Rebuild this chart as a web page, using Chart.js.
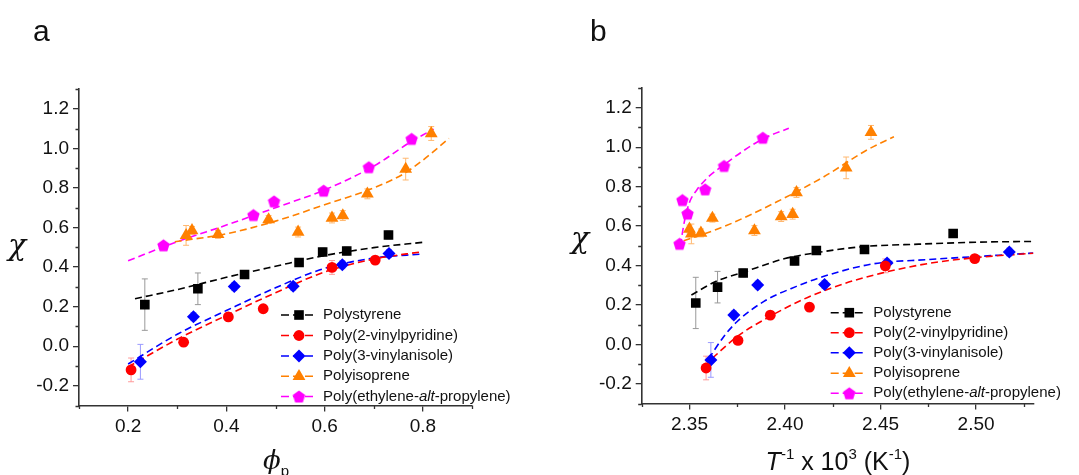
<!DOCTYPE html>
<html>
<head>
<meta charset="utf-8">
<script src="https://cdn.jsdelivr.net/npm/chart.js@4.4.1/dist/chart.umd.min.js"></script>
<style>
  html, body { margin: 0; padding: 0; background: #fff; }
  #wrap { position: relative; width: 1079px; height: 475px; overflow: hidden;
          font-family: 'Liberation Sans', Arial, sans-serif; color: #111; }
  .panel { position: absolute; top: 0; height: 475px; }
  #panelA { left: 0; width: 540px; }
  #panelB { left: 540px; width: 539px; }
  .lbl { position: absolute; white-space: nowrap; line-height: 1; }
  .letter { font-size: 30px; }
  .chi { font-family: 'DejaVu Serif', 'Liberation Serif', serif; font-style: italic; font-size: 30px;
         transform: translate(-50%, -50%); }
  .xt { font-size: 25px; transform: translate(-50%, -50%); }
  .xt .phi { font-family: 'DejaVu Serif', 'Liberation Serif', serif; font-style: italic; font-size: 26px; }
  .xt sub { font-size: 15px; vertical-align: -7px; line-height: 0; }
  .xt sup { font-size: 15px; vertical-align: 11px; line-height: 0; }
</style>
</head>
<body>
<div id="wrap">
  <div class="panel" id="panelA"><canvas id="chartA"></canvas></div>
  <div class="panel" id="panelB"><canvas id="chartB"></canvas></div>
  <div class="lbl letter" style="left:33px;top:16px">a</div>
  <div class="lbl letter" style="left:590px;top:16px">b</div>
  <div class="lbl chi" style="left:17px;top:245px">χ</div>
  <div class="lbl chi" style="left:580px;top:238px">χ</div>
  <div class="lbl xt" style="left:276px;top:460px"><span class="phi">ϕ</span><sub>p</sub></div>
  <div class="lbl xt" style="left:838px;top:461px"><i>T</i><sup>-1</sup> x 10<sup>3</sup> (K<sup>-1</sup>)</div>
</div>

<script>
const FONT = "'Liberation Sans', Arial, sans-serif";
const AXIS_COLOR = '#333';

// ── Axis ticks ────────────────────────────────────────────────────────────────

const chiTicks  = [-0.2, 0, 0.2, 0.4, 0.6, 0.8, 1.0, 1.2];
const chiMinor  = [-0.3, -0.1, 0.1, 0.3, 0.5, 0.7, 0.9, 1.1, 1.3];
const phiTicks  = [0.2, 0.4, 0.6, 0.8];
const phiMinor  = [0.1, 0.3, 0.5, 0.7, 0.9];
const invTTicks = [2.35, 2.40, 2.45, 2.50];
const invTMinor = [2.325, 2.375, 2.425, 2.475, 2.525];

const seriesNames = ['Polystyrene', 'Poly(2-vinylpyridine)', 'Poly(3-vinylanisole)',
                     'Polyisoprene', 'Poly(ethylene-alt-propylene)'];

// ── Measured chi (shared by both panels), with phi_p and 1000/T ──────────────

const psChi   = [0.21, 0.29, 0.362, 0.423, 0.476, 0.481, 0.562];
const psErr   = [0.13, 0.08, 0.02, 0.02, 0.02, 0.02, 0.02];
const psPhi   = [0.234, 0.342, 0.437, 0.548, 0.596, 0.645, 0.730];
const psInvT  = [2.3533, 2.3647, 2.3781, 2.4050, 2.4164, 2.4416, 2.4880];

const p2vpChi  = [-0.12, 0.02, 0.148, 0.189, 0.398, 0.435];
const p2vpErr  = [0.06, 0.02, 0.02, 0.02, 0.035, 0.02];
const p2vpPhi  = [0.206, 0.313, 0.404, 0.475, 0.615, 0.703];
const p2vpInvT = [2.3587, 2.3754, 2.3923, 2.4128, 2.4525, 2.4993];

const p3vaChi  = [-0.079, 0.149, 0.301, 0.303, 0.412, 0.468];
const p3vaErr  = [0.088, 0.02, 0.02, 0.02, 0.02, 0.02];
const p3vaPhi  = [0.225, 0.333, 0.416, 0.536, 0.636, 0.731];
const p3vaInvT = [2.3612, 2.3732, 2.3857, 2.4207, 2.4534, 2.5174];

const piChi  = [0.56, 0.585, 0.565, 0.64, 0.577, 0.648, 0.66, 0.77, 0.895, 1.075];
const piErr  = [0.05, 0.02, 0.02, 0.02, 0.025, 0.025, 0.025, 0.025, 0.055, 0.035];
const piPhi  = [0.318, 0.330, 0.383, 0.486, 0.546, 0.615, 0.637, 0.687, 0.765, 0.817];
const piInvT = [2.3510, 2.3500, 2.3560, 2.3620, 2.3840, 2.3980, 2.4040, 2.4060, 2.4320, 2.4450];

const pepChi  = [0.51, 0.663, 0.732, 0.786, 0.905, 1.048];
const pepErr  = [0, 0, 0, 0, 0, 0];
const pepPhi  = [0.272, 0.455, 0.497, 0.598, 0.690, 0.777];
const pepInvT = [2.3448, 2.3490, 2.3463, 2.3582, 2.3681, 2.3884];

// ── Dashed fit curves ────────────────────────────────────────────────────────

const psFitPhi     = [0.214, 0.30, 0.40, 0.50, 0.60, 0.70, 0.80];
const psFitPhiChi  = [0.240, 0.286, 0.348, 0.404, 0.458, 0.498, 0.525];
const p2vpFitPhi    = [0.20, 0.30, 0.40, 0.50, 0.60, 0.70, 0.80];
const p2vpFitPhiChi = [-0.105, 0.035, 0.155, 0.27, 0.375, 0.44, 0.478];
const p3vaFitPhi    = [0.20, 0.30, 0.40, 0.50, 0.60, 0.70, 0.80];
const p3vaFitPhiChi = [-0.09, 0.06, 0.18, 0.295, 0.393, 0.445, 0.466];
const piFitPhi      = [0.295, 0.40, 0.50, 0.60, 0.70, 0.76, 0.80, 0.853];
const piFitPhiChi   = [0.528, 0.568, 0.632, 0.715, 0.80, 0.87, 0.94, 1.05];
const pepFitPhi     = [0.20, 0.30, 0.40, 0.50, 0.60, 0.70, 0.78, 0.822];
const pepFitPhiChi  = [0.432, 0.528, 0.612, 0.70, 0.79, 0.91, 1.04, 1.097];

const psFitT      = [2.351, 2.364, 2.378, 2.40, 2.42, 2.44, 2.47, 2.50, 2.53];
const psFitTChi   = [0.25, 0.32, 0.365, 0.435, 0.47, 0.495, 0.508, 0.518, 0.522];
const p2vpFitT    = [2.362, 2.375, 2.39, 2.41, 2.43, 2.45, 2.475, 2.50, 2.53];
const p2vpFitTChi = [-0.07, 0.04, 0.13, 0.23, 0.305, 0.36, 0.41, 0.44, 0.462];
const p3vaFitT    = [2.360, 2.368, 2.375, 2.389, 2.406, 2.42, 2.446, 2.475, 2.50, 2.53];
const p3vaFitTChi = [-0.074, 0.04, 0.116, 0.218, 0.294, 0.344, 0.408, 0.43, 0.445, 0.463];
const piFitT      = [2.347, 2.368, 2.396, 2.42, 2.443, 2.457];
const piFitTChi   = [0.525, 0.597, 0.724, 0.848, 0.986, 1.053];
const pepFitT     = [2.3452, 2.3475, 2.350, 2.354, 2.36, 2.368, 2.378, 2.389, 2.402];
const pepFitTChi  = [0.50, 0.63, 0.72, 0.785, 0.85, 0.91, 0.98, 1.045, 1.096];

// ── Styles ───────────────────────────────────────────────────────────────────

function pentagon(color, r) {
  const c = document.createElement('canvas');
  const s = Math.ceil(r * 2) + 2;
  c.width = s; c.height = s;
  const g = c.getContext('2d');
  g.fillStyle = color;
  g.beginPath();
  for (let k = 0; k < 5; k++) {
    const a = -Math.PI / 2 + k * 2 * Math.PI / 5;
    const px = s / 2 + r * Math.cos(a);
    const py = s / 2 + r * Math.sin(a) + r * 0.095;
    if (k) g.lineTo(px, py); else g.moveTo(px, py);
  }
  g.closePath();
  g.fill();
  return c;
}

const styles = [
  { color: '#000000', err: '#999999', marker: 'rect',     radius: 6.8 },
  { color: '#ff0000', err: '#ff9a9a', marker: 'circle',   radius: 5.4 },
  { color: '#0000ff', err: '#9a9aff', marker: 'rectRot',  radius: 6.5 },
  { color: '#ff8000', err: '#ffb870', marker: 'triangle', radius: 7.4 },
  { color: '#ff00ff', err: '#ff9aff', marker: pentagon('#ff00ff', 6.5), radius: 6.5 },
];

const chiSets = [psChi, p2vpChi, p3vaChi, piChi, pepChi];
const errSets = [psErr, p2vpErr, p3vaErr, piErr, pepErr];

const panels = {
  a: {
    xs:   [psPhi, p2vpPhi, p3vaPhi, piPhi, pepPhi],
    fitX: [psFitPhi, p2vpFitPhi, p3vaFitPhi, piFitPhi, pepFitPhi],
    fitY: [psFitPhiChi, p2vpFitPhiChi, p3vaFitPhiChi, piFitPhiChi, pepFitPhiChi],
    xMin: 0.1, xMax: 0.9, xTicks: phiTicks, xMinor: phiMinor, digits: 1,
    pad: { top: 89, right: 68, left: 0, bottom: 0 }, yW: 79, xH: 69.5,
    legend: { x1: 281, x2: 313, mx: 299, tx: 323, ys: [315, 335.5, 356, 376.3, 396.5] },
  },
  b: {
    xs:   [psInvT, p2vpInvT, p3vaInvT, piInvT, pepInvT],
    fitX: [psFitT, p2vpFitT, p3vaFitT, piFitT, pepFitT],
    fitY: [psFitTChi, p2vpFitTChi, p3vaFitTChi, piFitTChi, pepFitTChi],
    xMin: 2.325, xMax: 2.53, xTicks: invTTicks, xMinor: invTMinor, digits: 2,
    pad: { top: 88, right: 45.6, left: 0, bottom: 0 }, yW: 101.7, xH: 71.5,
    legend: { x1: 290.7, x2: 322.7, mx: 309.3, tx: 333.3, ys: [312.7, 332.7, 352.7, 373.3, 393.3] },
  },
};

function buildDatasets(p) {
  const sets = [];
  styles.forEach((st, i) => {
    sets.push({
      label: seriesNames[i] + ' fit',
      data: p.fitX[i].map((x, k) => ({ x, y: p.fitY[i][k] })),
      showLine: true,
      borderColor: st.color,
      borderWidth: 1.6,
      borderDash: [7, 4],
      cubicInterpolationMode: 'monotone',
      pointRadius: 0,
      order: 2,
    });
  });
  styles.forEach((st, i) => {
    sets.push({
      label: seriesNames[i],
      data: p.xs[i].map((x, k) => ({ x, y: chiSets[i][k] })),
      errs: errSets[i],
      errColor: st.err,
      showLine: false,
      pointStyle: st.marker,
      pointRadius: st.radius,
      pointBackgroundColor: st.color,
      pointBorderWidth: 0,
      pointBorderColor: st.color,
      order: 1,
    });
  });
  return sets;
}

// ── Plugins ──────────────────────────────────────────────────────────────────

const errorBars = {
  id: 'errorBars',
  beforeDatasetsDraw(chart) {
    const { ctx, scales: { x, y } } = chart;
    ctx.save();
    chart.data.datasets.forEach(ds => {
      if (!ds.errs) return;
      ctx.strokeStyle = ds.errColor;
      ctx.lineWidth = 1;
      ds.data.forEach((pt, i) => {
        const e = ds.errs[i];
        if (!e) return;
        const px = x.getPixelForValue(pt.x);
        const y1 = y.getPixelForValue(pt.y - e);
        const y2 = y.getPixelForValue(pt.y + e);
        ctx.beginPath();
        ctx.moveTo(px, y1); ctx.lineTo(px, y2);
        ctx.moveTo(px - 3, y1); ctx.lineTo(px + 3, y1);
        ctx.moveTo(px - 3, y2); ctx.lineTo(px + 3, y2);
        ctx.stroke();
      });
    });
    ctx.restore();
  },
};

const minorTicks = {
  id: 'minorTicks',
  afterDraw(chart, args, opts) {
    const { ctx, scales: { x, y } } = chart;
    ctx.save();
    ctx.strokeStyle = AXIS_COLOR;
    ctx.lineWidth = 1.3;
    ctx.beginPath();
    opts.x.forEach(v => {
      const px = Math.round(x.getPixelForValue(v)) + 0.5;
      ctx.moveTo(px, x.top); ctx.lineTo(px, x.top + 3.5);
    });
    opts.y.forEach(v => {
      const py = Math.round(y.getPixelForValue(v)) + 0.5;
      ctx.moveTo(y.right, py); ctx.lineTo(y.right - 3.5, py);
    });
    ctx.stroke();
    ctx.restore();
  },
};

const inLegend = {
  id: 'inLegend',
  afterDatasetsDraw(chart, args, opts) {
    const ctx = chart.ctx;
    ctx.save();
    styles.forEach((st, i) => {
      const yy = opts.ys[i];
      ctx.strokeStyle = st.color;
      ctx.lineWidth = 1.6;
      ctx.setLineDash([8, 4]);
      ctx.beginPath();
      ctx.moveTo(opts.x1, yy); ctx.lineTo(opts.x2, yy);
      ctx.stroke();
      ctx.setLineDash([]);
      ctx.fillStyle = st.color;
      Chart.helpers.drawPoint(ctx, { pointStyle: st.marker, radius: st.radius, rotation: 0, borderWidth: 0 }, opts.mx, yy);

      ctx.fillStyle = '#111';
      ctx.textBaseline = 'middle';
      ctx.textAlign = 'left';
      const name = seriesNames[i];
      const cut = name.indexOf('alt');
      let tx = opts.tx;
      const parts = cut < 0 ? [[name, false]]
        : [[name.slice(0, cut), false], ['alt', true], [name.slice(cut + 3), false]];
      parts.forEach(([txt, it]) => {
        ctx.font = `${it ? 'italic ' : ''}15px ${FONT}`;
        ctx.fillText(txt, tx, yy);
        tx += ctx.measureText(txt).width;
      });
    });
    ctx.restore();
  },
};

// ── Charts ───────────────────────────────────────────────────────────────────

function axis(min, max, ticks, digits, isX, size) {
  return {
    type: 'linear',
    min, max,
    afterBuildTicks: s => { s.ticks = ticks.map(v => ({ value: v })); },
    afterFit: s => { if (isX) s.height = size; else s.width = size; },
    grid: { display: true, drawOnChartArea: false, drawTicks: true, tickLength: 6,
            color: AXIS_COLOR, lineWidth: 1.3 },
    border: { display: true, color: AXIS_COLOR, width: 1.6 },
    ticks: {
      color: '#111',
      font: { family: FONT, size: 19 },
      padding: 4,
      maxRotation: 0,
      callback: v => Number(v).toFixed(digits),
    },
  };
}

function makeChart(id, p) {
  return new Chart(document.getElementById(id), {
    type: 'scatter',
    data: { datasets: buildDatasets(p) },
    options: {
      responsive: true,
      maintainAspectRatio: false,
      animation: false,
      devicePixelRatio: 1,
      layout: { padding: p.pad },
      plugins: {
        legend: { display: false },
        tooltip: { enabled: false },
        minorTicks: { x: p.xMinor, y: chiMinor },
        inLegend: p.legend,
      },
      scales: {
        x: axis(p.xMin, p.xMax, p.xTicks, p.digits, true, p.xH),
        y: axis(-0.3, 1.3, chiTicks, 1, false, p.yW),
      },
    },
    plugins: [errorBars, minorTicks, inLegend],
  });
}

makeChart('chartA', panels.a);
makeChart('chartB', panels.b);
</script>
</body>
</html>
